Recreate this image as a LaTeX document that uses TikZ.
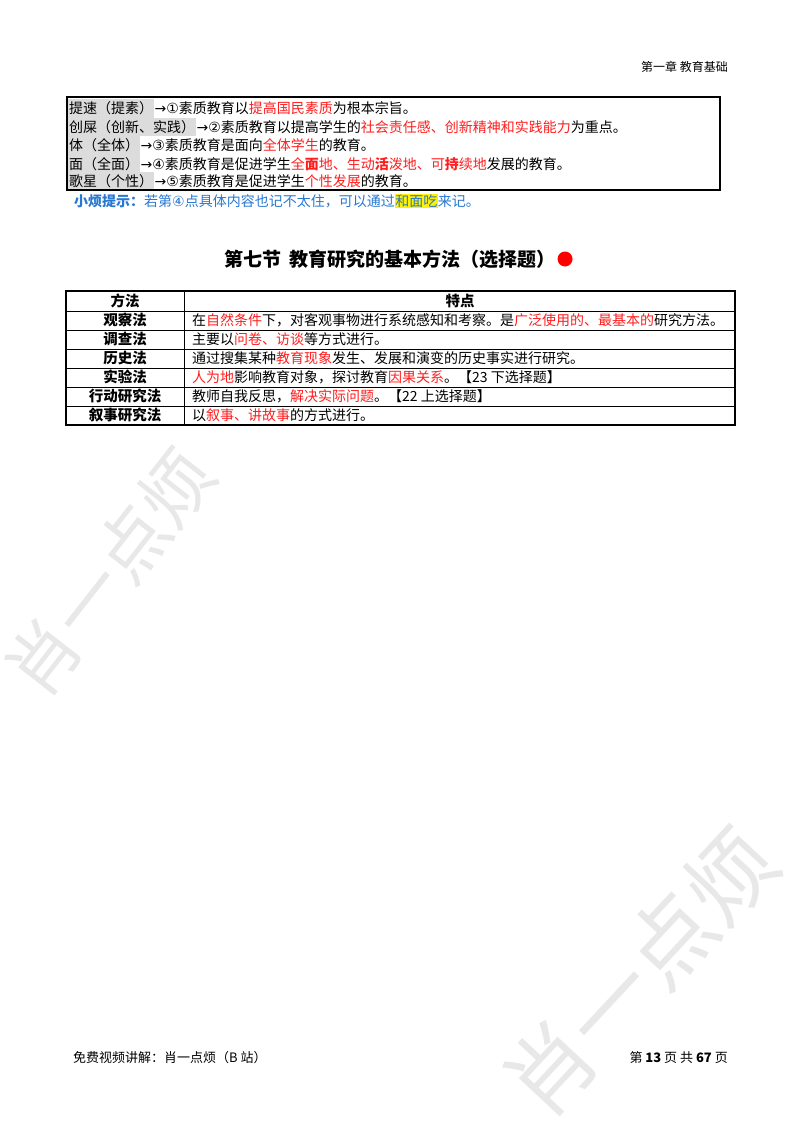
\documentclass[tikz,border=0pt]{standalone}
\usepackage{fontspec}
\setmainfont{Noto Sans CJK SC}
\newfontfamily\sym{DejaVu Sans}
\definecolor{rd}{RGB}{255,30,30}
\definecolor{bl}{RGB}{40,120,210}
\definecolor{hl}{RGB}{220,220,220}
\newcommand{\R}[1]{\textcolor{rd}{#1}}
\newcommand{\RB}[1]{\textcolor{rd}{\bfseries #1}}
\begin{document}
\begin{tikzpicture}[x=1pt,y=-1pt,
  txt/.style={anchor=west,inner sep=0,font=\fontsize{14}{15}\selectfont},
  ttx/.style={anchor=west,inner sep=0,font=\fontsize{14}{15}\selectfont},
  lab/.style={anchor=west,inner xsep=1pt,inner ysep=0,minimum height=18.6pt,fill=hl,font=\fontsize{14}{15}\selectfont},
  cell/.style={anchor=center,inner sep=0,font=\fontsize{14.5}{15}\selectfont\bfseries},
  wm/.style={text=gray!18,font=\fontsize{72}{72}\selectfont,inner sep=0}]
\useasboundingbox (0,0) rectangle (800,1132);
\fill[white] (0,0) rectangle (800,1132);
% watermarks
\node[wm,rotate=52] (wm1) at (110,572) {肖一点烦};
\node[wm,rotate=47,font=\fontsize{88}{88}\selectfont] (wm2) at (640,972) {肖一点烦};
% header
\node[anchor=east,inner sep=0,font=\fontsize{12}{13}\selectfont] (hdr) at (728,67) {第一章\ 教育基础};
% box
\node[lab] (l1) at (68,108.5) {提速（提素）};
\node[lab] (l2) at (68,127) {创屎（创新、实践）};
\node[lab] (l3) at (68,145.5) {体（全体）};
\node[lab] (l4) at (68,164) {面（全面）};
\node[lab] (l5) at (68,181) {歌星（个性）};
\node[txt] (r1) at (l1.east) {\sym →①\rmfamily 素质教育以\R{提高国民素质}为根本宗旨。};
\node[txt] (r2) at (l2.east) {\sym →②\rmfamily 素质教育以提高学生的\R{社会责任感、创新精神和实践能力}为重点。};
\node[txt] (r3) at (l3.east) {\sym →③\rmfamily 素质教育是面向\R{全体学生}的教育。};
\node[txt] (r4) at (l4.east) {\sym →④\rmfamily 素质教育是促进学生\R{全}\RB{面}\R{地、生动}\RB{活}\R{泼地、可}\RB{持}\R{续地}发展的教育。};
\node[txt] (r5) at (l5.east) {\sym →⑤\rmfamily 素质教育是促进学生\R{个性发展}的教育。};
\draw[line width=1.6pt] (67,97) rectangle (720,190);
% tip
\node[txt,text=bl] (tip) at (74,201) {\bfseries 小烦提示：\mdseries 若第\sym ④\rmfamily 点具体内容也记不太住，可以通过{\setlength{\fboxsep}{0.5pt}\colorbox{yellow}{和面吃}}来记。};
% title
\node[inner sep=0,font=\fontsize{19}{20}\selectfont\bfseries] (title) at (390,259) {第七节\ \ 教育研究的基本方法（选择题）};
\fill[red] ([xshift=9pt]title.east) circle (7.5);
% table
\foreach \y in {311,330,349,368,387,406} \draw[line width=0.6pt] (66,\y) -- (735,\y);
\draw[line width=0.6pt] (184,291) -- (184,425);
\draw[line width=1.6pt] (66,291) rectangle (735,425);
\node[cell] (h1) at (125,301) {方法};
\node[cell] (h2) at (460,301) {特点};
\node[cell] (m1) at (125,320) {观察法};
\node[cell] (m2) at (125,339) {调查法};
\node[cell] (m3) at (125,358) {历史法};
\node[cell] (m4) at (125,377) {实验法};
\node[cell] (m5) at (125,396) {行动研究法};
\node[cell] (m6) at (125,415) {叙事研究法};
\node[ttx] (d1) at (192,320) {在\R{自然条件}下，对客观事物进行系统感知和考察。是\R{广泛使用的、最基本的}研究方法。};
\node[ttx] (d2) at (192,339) {主要以\R{问卷、访谈}等方式进行。};
\node[ttx] (d3) at (192,358) {通过搜集某种\R{教育现象}发生、发展和演变的历史事实进行研究。};
\node[ttx] (d4) at (192,377) {\R{人为地}影响教育对象，探讨教育\R{因果关系}。【23 下选择题】};
\node[ttx] (d5) at (192,396) {教师自我反思，\R{解决实际问题}。【22 上选择题】};
\node[ttx] (d6) at (192,415) {以\R{叙事、讲故事}的方式进行。};
% footer
\node[anchor=west,inner sep=0,font=\fontsize{13}{14}\selectfont] (f1) at (73,1058) {免费视频讲解：肖一点烦（B 站）};
\node[anchor=east,inner sep=0,font=\fontsize{13}{14}\selectfont] (f2) at (728,1058) {第 \textbf{13} 页 共 \textbf{67} 页};
\end{tikzpicture}
\end{document}
